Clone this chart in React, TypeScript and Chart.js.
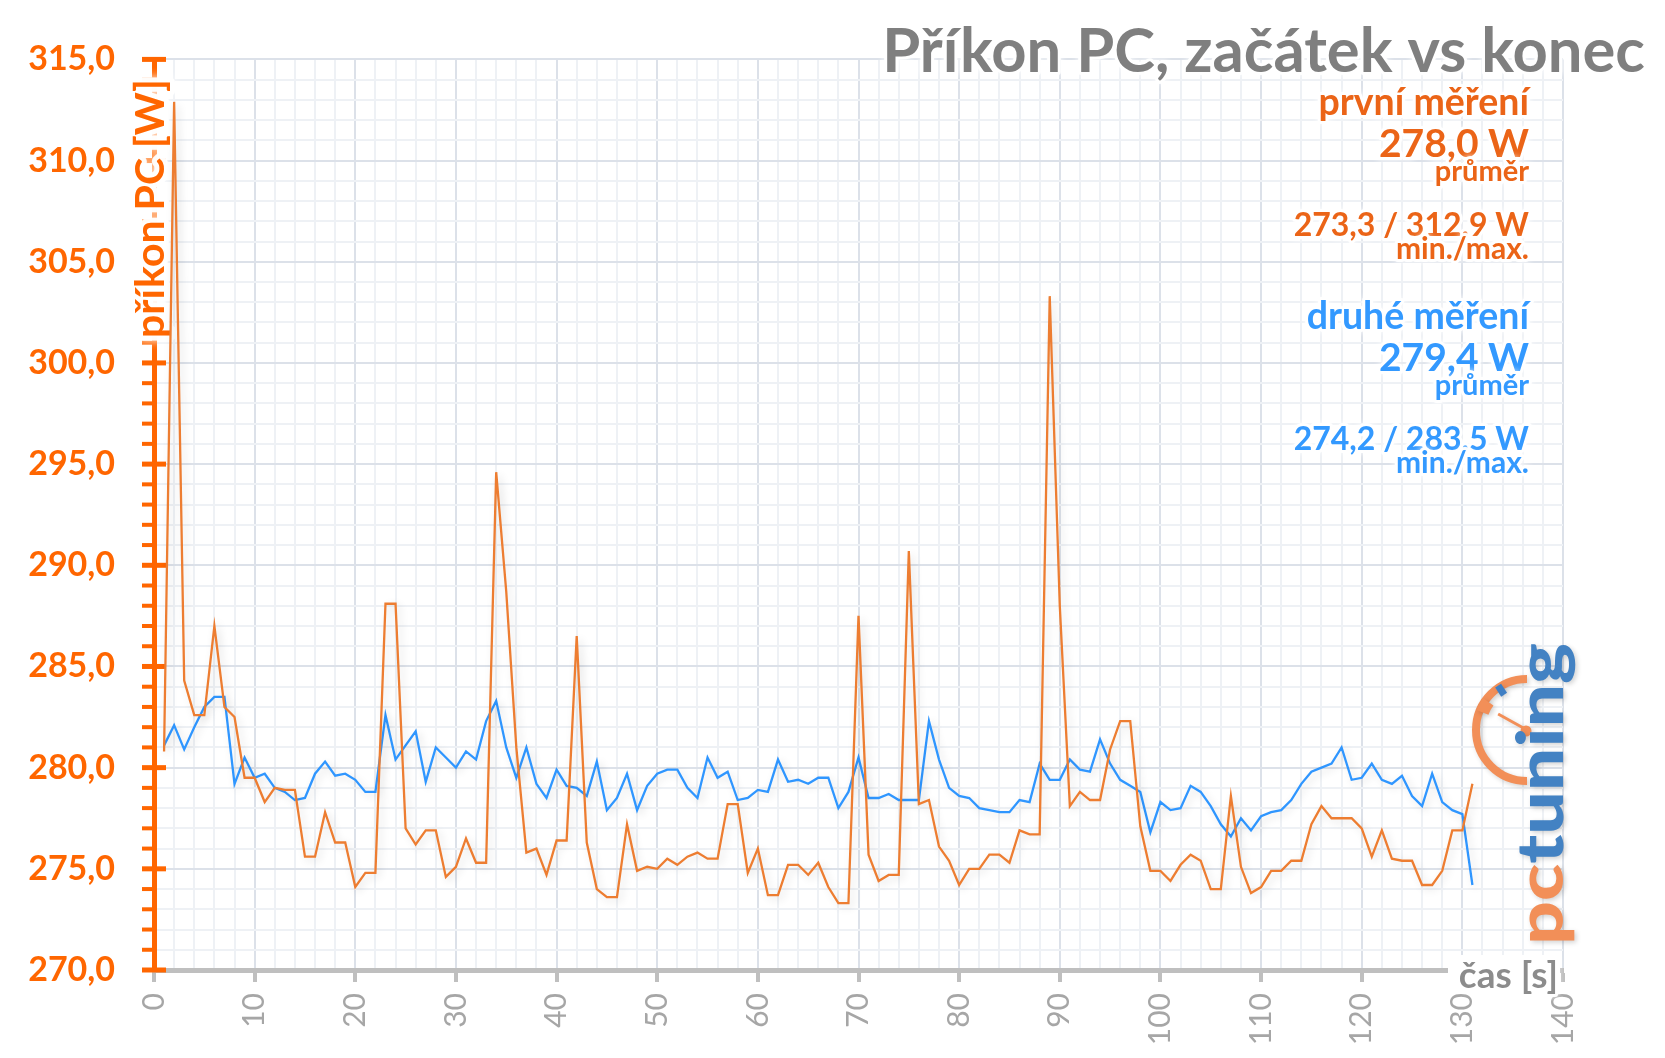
import { useEffect, useRef } from 'react';
import { Chart, registerables } from 'chart.js';

Chart.register(...registerables);

// ---------- data ----------
const START_SECOND = 1; // first sample is at t = 1 s

// první měření (orange), one value per second from t = 1 s
const firstRun = [
  280.8, 312.9, 284.3, 282.6, 282.6, 287.0, 283.0, 282.5, 279.5, 279.5,
  278.3, 279.0, 278.9, 278.9, 275.6, 275.6, 277.8, 276.3, 276.3, 274.1,
  274.8, 274.8, 288.1, 288.1, 277.0, 276.2, 276.9, 276.9, 274.6, 275.1,
  276.5, 275.3, 275.3, 294.6, 288.7, 281.0, 275.8, 276.0, 274.7, 276.4,
  276.4, 286.5, 276.3, 274.0, 273.6, 273.6, 277.2, 274.9, 275.1, 275.0,
  275.5, 275.2, 275.6, 275.8, 275.5, 275.5, 278.2, 278.2, 274.8, 276.0,
  273.7, 273.7, 275.2, 275.2, 274.7, 275.3, 274.1, 273.3, 273.3, 287.5,
  275.7, 274.4, 274.7, 274.7, 290.7, 278.2, 278.4, 276.1, 275.4, 274.2,
  275.0, 275.0, 275.7, 275.7, 275.3, 276.9, 276.7, 276.7, 303.3, 288.0,
  278.1, 278.8, 278.4, 278.4, 280.9, 282.3, 282.3, 277.1, 274.9, 274.9,
  274.4, 275.2, 275.7, 275.4, 274.0, 274.0, 278.6, 275.1, 273.8, 274.1,
  274.9, 274.9, 275.4, 275.4, 277.2, 278.1, 277.5, 277.5, 277.5, 277.0,
  275.6, 276.9, 275.5, 275.4, 275.4, 274.2, 274.2, 274.9, 276.9, 276.9,
  279.2,
];

// druhé měření (blue)
const secondRun = [
  281.1, 282.1, 280.9, 282.0, 283.0, 283.5, 283.5, 279.2, 280.5, 279.5,
  279.7, 279.0, 278.8, 278.4, 278.5, 279.7, 280.3, 279.6, 279.7, 279.4,
  278.8, 278.8, 282.6, 280.4, 281.1, 281.8, 279.3, 281.0, 280.5, 280.0,
  280.8, 280.4, 282.3, 283.3, 281.0, 279.5, 281.0, 279.2, 278.5, 279.9,
  279.1, 279.0, 278.6, 280.3, 277.9, 278.5, 279.7, 277.9, 279.1, 279.7,
  279.9, 279.9, 279.0, 278.5, 280.5, 279.5, 279.8, 278.4, 278.5, 278.9,
  278.8, 280.4, 279.3, 279.4, 279.2, 279.5, 279.5, 278.0, 278.8, 280.5,
  278.5, 278.5, 278.7, 278.4, 278.4, 278.4, 282.3, 280.4, 279.0, 278.6,
  278.5, 278.0, 277.9, 277.8, 277.8, 278.4, 278.3, 280.2, 279.4, 279.4,
  280.4, 279.9, 279.8, 281.4, 280.2, 279.4, 279.1, 278.8, 276.8, 278.3,
  277.9, 278.0, 279.1, 278.8, 278.1, 277.2, 276.6, 277.5, 276.9, 277.6,
  277.8, 277.9, 278.4, 279.2, 279.8, 280.0, 280.2, 281.0, 279.4, 279.5,
  280.2, 279.4, 279.2, 279.6, 278.6, 278.1, 279.7, 278.3, 277.9, 277.7,
  274.2,
];

const seriesNames = ['první měření', 'druhé měření'];
const seriesAverages = [278.0, 279.4];
const seriesMins = [273.3, 274.2];
const seriesMaxes = [312.9, 283.5];

const xRange = [0, 140];
const xStep = 2;
const xLabelEvery = 10;
const yRange = [270, 315];
const yStep = 1;
const yLabelEvery = 5;

const TITLE = 'Příkon PC, začátek vs konec';
const Y_TITLE = 'příkon PC [W]';
const X_TITLE = 'čas [s]';
const LABEL_AVG = 'průměr';
const LABEL_MINMAX = 'min./max.';
const LOGO_A = 'pc';
const LOGO_B = 'tuning';

// ---------- styles ----------
const FONT = 'Lato';
const AXIS_ORANGE = '#FF6600';
const LINE_ORANGE = '#ED7D31';
const LINE_BLUE = '#2F96FF';
const TEXT_ORANGE = '#EB6417';
const TEXT_BLUE = '#3399FF';
const GRID_MAJOR = '#DCE1E9';
const GRID_MINOR = '#EEF1F5';

const fmt = (v: number) => v.toFixed(1).replace('.', ',');
const toPoints = (vals: number[]) => vals.map((y, i) => ({ x: START_SECOND + i, y }));

function glowText(
  ctx: CanvasRenderingContext2D,
  text: string,
  x: number,
  y: number,
  font: string,
  color: string,
  align: CanvasTextAlign,
  glow = 6
) {
  ctx.save();
  ctx.font = font;
  ctx.textAlign = align;
  ctx.textBaseline = 'alphabetic';
  ctx.lineJoin = 'round';
  ctx.strokeStyle = 'rgba(255,255,255,0.95)';
  ctx.lineWidth = glow;
  ctx.shadowColor = '#ffffff';
  ctx.shadowBlur = glow;
  ctx.strokeText(text, x, y);
  ctx.shadowBlur = 0;
  ctx.fillStyle = color;
  ctx.fillText(text, x, y);
  ctx.restore();
}

function drawLogo(ctx: CanvasRenderingContext2D) {
  const cx = 1527;
  const cy = 730;
  ctx.save();
  ctx.shadowColor = 'rgba(0,0,0,0.18)';
  ctx.shadowBlur = 5;
  ctx.shadowOffsetX = 2;
  ctx.shadowOffsetY = 2;
  // gauge arc
  ctx.strokeStyle = '#F28F58';
  ctx.lineWidth = 8;
  ctx.beginPath();
  ctx.arc(cx, cy, 51, Math.PI * 0.5, Math.PI * 1.5);
  ctx.stroke();
  ctx.lineWidth = 13;
  ctx.beginPath();
  ctx.arc(cx, cy, 48, Math.PI * 1.12, Math.PI * 1.2);
  ctx.stroke();
  // blue mark
  const a = (237 * Math.PI) / 180;
  ctx.strokeStyle = '#3F7FC4';
  ctx.lineWidth = 7;
  ctx.beginPath();
  ctx.moveTo(cx + Math.cos(a) * 42, cy + Math.sin(a) * 42);
  ctx.lineTo(cx + Math.cos(a) * 53, cy + Math.sin(a) * 53);
  ctx.stroke();
  // needle
  const n = (209 * Math.PI) / 180;
  ctx.strokeStyle = '#F28F58';
  ctx.lineWidth = 3;
  ctx.beginPath();
  ctx.moveTo(cx, cy);
  ctx.lineTo(cx + Math.cos(n) * 33, cy + Math.sin(n) * 33);
  ctx.stroke();
  ctx.fillStyle = '#F28F58';
  ctx.beginPath();
  ctx.arc(cx - 1, cy + 1, 5.5, 0, Math.PI * 2);
  ctx.fill();
  // text
  ctx.translate(1563, 945);
  ctx.rotate(-Math.PI / 2);
  ctx.font = `900 64px ${FONT}`;
  ctx.textAlign = 'left';
  ctx.textBaseline = 'alphabetic';
  const w = ctx.measureText(LOGO_A + LOGO_B).width;
  ctx.scale(302 / w, 1);
  ctx.fillStyle = '#F28F58';
  ctx.fillText(LOGO_A, 0, 0);
  ctx.fillStyle = '#4382C3';
  ctx.fillText(LOGO_B, ctx.measureText(LOGO_A).width, 0);
  ctx.restore();
}

const overlayPlugin = {
  id: 'overlay',
  beforeDatasetsDraw(chart: any) {
    const ctx: CanvasRenderingContext2D = chart.ctx;
    const ys = chart.scales.y;
    ctx.save();
    ctx.strokeStyle = AXIS_ORANGE;
    ys.ticks.forEach((t: any) => {
      const py = ys.getPixelForValue(t.value);
      const major = Math.round(t.value) % yLabelEvery === 0;
      ctx.lineWidth = major ? 5 : 4;
      ctx.beginPath();
      ctx.moveTo(142, py);
      ctx.lineTo(major ? 166 : 155, py);
      ctx.stroke();
    });
    ctx.restore();
    // y axis title
    ctx.save();
    ctx.translate(164, 338);
    ctx.rotate(-Math.PI / 2);
    glowText(ctx, Y_TITLE, 0, 0, `bold 41px ${FONT}`, AXIS_ORANGE, 'left', 10);
    ctx.restore();
  },
  beforeDatasetDraw(chart: any) {
    const ctx: CanvasRenderingContext2D = chart.ctx;
    ctx.save();
    ctx.shadowColor = 'rgba(0,0,0,0.14)';
    ctx.shadowBlur = 8;
    ctx.shadowOffsetX = 3;
    ctx.shadowOffsetY = 3;
  },
  afterDatasetDraw(chart: any) {
    chart.ctx.restore();
  },
  afterDraw(chart: any) {
    const ctx: CanvasRenderingContext2D = chart.ctx;
    // title
    glowText(ctx, TITLE, 1645, 72, `bold 61.5px ${FONT}`, '#7F7F7F', 'right', 6);
    // legend blocks
    const colors = [TEXT_ORANGE, TEXT_BLUE];
    const offsets = [0, 214];
    for (let i = 0; i < 2; i++) {
      const o = offsets[i];
      const c = colors[i];
      const rx = 1529;
      glowText(ctx, seriesNames[i], rx, 115 + o, `bold 37.5px ${FONT}`, c, 'right');
      glowText(ctx, `${fmt(seriesAverages[i])} W`, rx, 157 + o, `bold 39px ${FONT}`, c, 'right');
      glowText(ctx, LABEL_AVG, rx, 181 + o, `bold 29px ${FONT}`, c, 'right');
      glowText(ctx, `${fmt(seriesMins[i])} / ${fmt(seriesMaxes[i])} W`, rx, 236 + o, `bold 32px ${FONT}`, c, 'right');
      glowText(ctx, LABEL_MINMAX, rx, 259 + o, `bold 30px ${FONT}`, c, 'right');
    }
    // x axis title
    ctx.save();
    ctx.fillStyle = '#ffffff';
    ctx.fillRect(1448, 955, 112, 37);
    ctx.restore();
    glowText(ctx, X_TITLE, 1558, 988, `bold 37px ${FONT}`, '#8C8C8C', 'right', 6);
    drawLogo(ctx);
  },
};

export default function App() {
  const canvasRef = useRef<HTMLCanvasElement>(null);

  useEffect(() => {
    const prevMargin = document.body.style.margin;
    document.body.style.margin = '0';
    if (!canvasRef.current) return;
    Chart.defaults.font.family = FONT;

    const chart = new Chart(canvasRef.current, {
      type: 'line',
      data: {
        datasets: [
          {
            label: seriesNames[0],
            data: toPoints(firstRun),
            borderColor: LINE_ORANGE,
            borderWidth: 2.3,
            pointRadius: 0,
            tension: 0,
            fill: false,
          },
          {
            label: seriesNames[1],
            data: toPoints(secondRun),
            borderColor: LINE_BLUE,
            borderWidth: 2.3,
            pointRadius: 0,
            tension: 0,
            fill: false,
          },
        ],
      },
      options: {
        animation: false,
        responsive: false,
        devicePixelRatio: 1,
        layout: { padding: { top: 49, right: 102, left: 0, bottom: 0 } },
        plugins: { legend: { display: false }, tooltip: { enabled: false }, title: { display: false } },
        scales: {
          x: {
            type: 'linear',
            min: xRange[0],
            max: xRange[1],
            ticks: {
              stepSize: xStep,
              autoSkip: false,
              minRotation: 90,
              maxRotation: 90,
              padding: 11,
              color: '#A6A6A6',
              font: { family: FONT, size: 30 },
              callback: (v: any) => (Math.round(v) % xLabelEvery === 0 ? String(v) : ''),
            },
            grid: {
              color: (c: any) => (c.tick && Math.round(c.tick.value) % xLabelEvery === 0 ? GRID_MAJOR : GRID_MINOR),
              lineWidth: 2,
              drawTicks: true,
              tickLength: 12,
              tickWidth: 4,
              tickColor: (c: any) =>
                c.tick && Math.round(c.tick.value) % xLabelEvery === 0 ? '#BFBFBF' : 'rgba(0,0,0,0)',
            },
            border: { color: '#BFBFBF', width: 5 },
            afterFit: (s: any) => {
              s.height = 88;
            },
          },
          y: {
            type: 'linear',
            min: yRange[0],
            max: yRange[1],
            ticks: {
              stepSize: yStep,
              autoSkip: false,
              padding: 39,
              color: AXIS_ORANGE,
              font: { family: FONT, size: 34, weight: 'bold' },
              callback: (v: any) => (Math.round(v) % yLabelEvery === 0 ? fmt(Number(v)) : ''),
            },
            grid: {
              color: (c: any) => (c.tick && Math.round(c.tick.value) % yLabelEvery === 0 ? GRID_MAJOR : GRID_MINOR),
              lineWidth: 2,
              drawTicks: false,
            },
            border: { color: AXIS_ORANGE, width: 5 },
            afterFit: (s: any) => {
              s.width = 154;
            },
          },
        },
      } as any,
      plugins: [overlayPlugin],
    });

    let alive = true;
    const fonts: any = (document as any).fonts;
    if (fonts && fonts.load) {
      Promise.all([fonts.load(`bold 30px ${FONT}`), fonts.load(`30px ${FONT}`), fonts.load(`900 30px ${FONT}`)])
        .then(() => {
          if (alive) chart.update();
        })
        .catch(() => {});
    }

    return () => {
      alive = false;
      chart.destroy();
      document.body.style.margin = prevMargin;
    };
  }, []);

  return (
    <div style={{ position: 'absolute', left: 0, top: 0, width: 1665, height: 1058, background: '#ffffff' }}>
      <canvas ref={canvasRef} width={1665} height={1058} style={{ display: 'block', width: 1665, height: 1058 }} />
    </div>
  );
}
